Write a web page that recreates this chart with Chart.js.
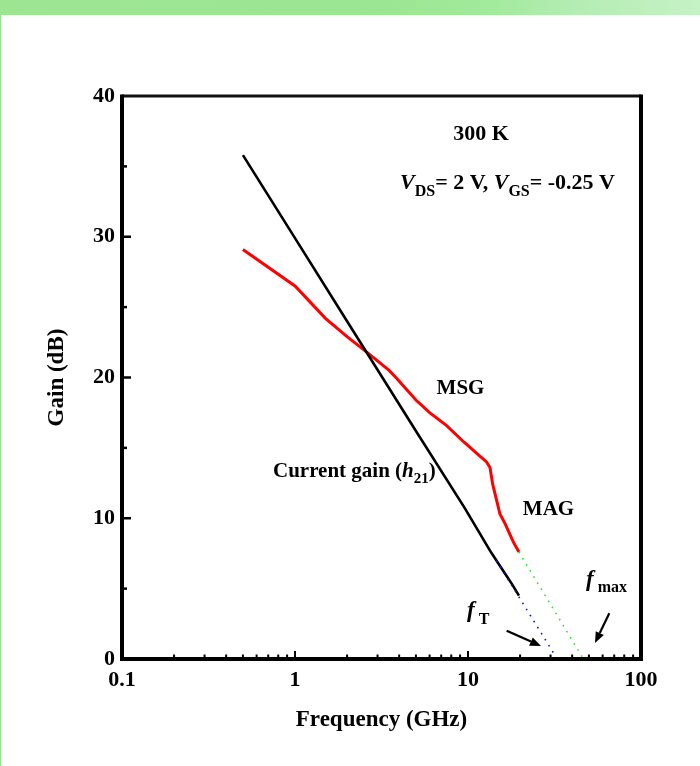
<!DOCTYPE html>
<html>
<head>
<meta charset="utf-8">
<script src="https://cdn.jsdelivr.net/npm/chart.js@4.4.1/dist/chart.umd.min.js"></script>
<style>
  html, body { margin: 0; padding: 0; background: #ffffff; }
  #wrap { position: relative; width: 700px; height: 766px; overflow: hidden; }
  #band { position: absolute; left: 0; top: 0; width: 700px; height: 15px;
          background: linear-gradient(90deg, #9ee592 0%, #9be692 55%, #a2ea9c 70%, #b4ecb3 82%, #c6f2c6 100%); }
  #edge { position: absolute; left: 0; top: 15px; width: 1px; height: 751px; background: #96e48e; }
  canvas { position: absolute; left: 0; top: 0; }
</style>
</head>
<body>
<div id="wrap">
  <div id="band"></div>
  <div id="edge"></div>
  <canvas id="c" width="700" height="766"></canvas>
</div>
<script>
// ---- data ----
const freqH21 = [0.5, 1, 2, 5, 9.6, 13.4, 14.6, 16.5, 18, 19.7];          // GHz
const gainH21 = [35.8, 29.9, 24.0, 16.2, 10.7, 7.7, 7.0, 6.0, 5.3, 4.5];   // dB

const freqMSG = [0.5, 1.0, 1.5, 2.0, 2.6, 3.5, 3.9, 5.0, 6.0, 7.5, 9.5, 11.5, 12.8, 13.4, 13.9, 15.3, 16.4, 18.3, 19.7];
const gainMSG = [29.1, 26.5, 24.2, 22.9, 21.8, 20.5, 19.9, 18.4, 17.5, 16.6, 15.4, 14.5, 14.0, 13.6, 12.4, 10.3, 9.6, 8.3, 7.6];

const freqFtExt = [14.6, 32.8];
const gainFtExt = [7.0, 0];
const freqFmaxExt = [19.7, 46.5];
const gainFmaxExt = [7.6, 0];

const xTickValues = [0.1, 1, 10, 100];
const xTickLabels = ['0.1', '1', '10', '100'];
const yTickValues = [0, 10, 20, 30, 40];
const yTickLabels = ['0', '10', '20', '30', '40'];

const SERIF = '"Liberation Serif", "Times New Roman", serif';

function pts(xs, ys) { return xs.map((v, i) => ({ x: v, y: ys[i] })); }

function line(ctx, x1, y1, x2, y2) { ctx.beginPath(); ctx.moveTo(x1, y1); ctx.lineTo(x2, y2); ctx.stroke(); }

function arrow(ctx, x1, y1, x2, y2) {
  const ang = Math.atan2(y2 - y1, x2 - x1);
  const hl = 11, hw = 4.5;
  const bx = x2 - hl * Math.cos(ang), by = y2 - hl * Math.sin(ang);
  ctx.lineWidth = 2.2;
  line(ctx, x1, y1, bx, by);
  ctx.beginPath();
  ctx.moveTo(x2, y2);
  ctx.lineTo(bx + hw * Math.sin(ang), by - hw * Math.cos(ang));
  ctx.lineTo(bx - hw * Math.sin(ang), by + hw * Math.cos(ang));
  ctx.closePath();
  ctx.fill();
}

function runs(ctx, x, base, parts, align) {
  let w = 0;
  parts.forEach(p => { ctx.font = p.font; w += ctx.measureText(p.t).width + (p.dx || 0); });
  let cx = align === 'center' ? x - w / 2 : x;
  ctx.textAlign = 'left';
  ctx.textBaseline = 'alphabetic';
  parts.forEach(p => {
    ctx.font = p.font;
    cx += (p.dx || 0);
    ctx.fillText(p.t, cx, base + (p.dy || 0));
    cx += ctx.measureText(p.t).width;
  });
}

const framePlugin = {
  id: 'framePlugin',
  afterDatasetsDraw(chart) {
    const { ctx, chartArea: { left, right, top, bottom }, scales: { x, y } } = chart;
    ctx.save();
    ctx.strokeStyle = '#000';
    ctx.fillStyle = '#000';
    ctx.lineCap = 'butt';
    // x ticks (inside, on bottom axis)
    ctx.lineWidth = 2;
    for (let d = -1; d <= 1; d++) {
      for (let m = 1; m <= 9; m++) {
        const v = m * Math.pow(10, d);
        if (v <= 0.1 + 1e-9) continue;
        const px = x.getPixelForValue(v);
        const len = m === 1 ? 8 : 4.5;
        line(ctx, px, bottom, px, bottom - len);
      }
    }
    // y ticks (inside, on left axis)
    for (let v = 5; v < 40; v += 5) {
      const py = y.getPixelForValue(v);
      const len = v % 10 === 0 ? 9 : 5;
      ctx.lineWidth = 2.5;
      line(ctx, left, py, left + len, py);
    }
    // frame
    ctx.lineWidth = 3;
    ctx.strokeStyle = '#111';
    line(ctx, left, top, right, top);
    ctx.strokeStyle = '#000';
    ctx.lineWidth = 4;
    ctx.lineJoin = 'miter';
    ctx.beginPath();
    ctx.moveTo(left, top - 1.5);
    ctx.lineTo(left, bottom);
    ctx.lineTo(right, bottom);
    ctx.lineTo(right, top - 1.5);
    ctx.stroke();
    ctx.restore();
  },
  afterDraw(chart) {
    const { ctx } = chart;
    ctx.save();
    ctx.fillStyle = '#000';
    ctx.strokeStyle = '#000';
    const B = (s) => 'bold ' + s + 'px ' + SERIF;
    const BI = (s) => 'italic bold ' + s + 'px ' + SERIF;

    ctx.textAlign = 'center';
    ctx.textBaseline = 'middle';
    ctx.font = B(22);
    ctx.fillText('300 K', 481, 134);

    runs(ctx, 400, 189, [
      { t: 'V', font: BI(22) },
      { t: 'DS', font: B(16), dy: 7 },
      { t: '= 2 V, ', font: B(22) },
      { t: 'V', font: BI(22) },
      { t: 'GS', font: B(16), dy: 7 },
      { t: '= -0.25 V', font: B(22) }
    ]);

    ctx.textAlign = 'center';
    ctx.textBaseline = 'middle';
    ctx.font = B(21);
    ctx.fillText('MSG', 460.5, 388.5);
    ctx.fillText('MAG', 548.5, 509.5);

    runs(ctx, 273, 477, [
      { t: 'Current gain (', font: B(21) },
      { t: 'h', font: BI(21) },
      { t: '21', font: B(15), dy: 6 },
      { t: ')', font: B(21) }
    ]);

    runs(ctx, 467, 617, [
      { t: 'f', font: BI(23) },
      { t: 'T', font: B(16), dy: 7, dx: 4 }
    ]);
    runs(ctx, 586, 586, [
      { t: 'f', font: BI(23) },
      { t: 'max', font: B(16), dy: 6, dx: 4 }
    ]);

    arrow(ctx, 506.7, 630.7, 541, 646);
    arrow(ctx, 609.3, 613.3, 595, 643);
    ctx.restore();
  }
};

new Chart(document.getElementById('c'), {
  type: 'scatter',
  data: {
    datasets: [
      { label: 'Current gain (h21)', data: pts(freqH21, gainH21), showLine: true,
        borderColor: '#000000', borderWidth: 2.6, pointRadius: 0, tension: 0, order: 2 },
      { label: 'MSG / MAG', data: pts(freqMSG, gainMSG), showLine: true,
        borderColor: '#ff0000', borderWidth: 3, pointRadius: 0, tension: 0, order: 3 },
      { label: 'fT extrapolation', data: pts(freqFtExt, gainFtExt), showLine: true,
        borderColor: '#1010ff', borderWidth: 1.6, borderDash: [1.6, 5.5], pointRadius: 0, order: 1 },
      { label: 'fmax extrapolation', data: pts(freqFmaxExt, gainFmaxExt), showLine: true,
        borderColor: '#22ee22', borderWidth: 1.6, borderDash: [1.6, 5.5], pointRadius: 0, order: 1 }
    ]
  },
  options: {
    responsive: false,
    animation: false,
    devicePixelRatio: 1,
    layout: { padding: { left: 0, top: 96, right: 59, bottom: 0 } },
    plugins: { legend: { display: false }, tooltip: { enabled: false } },
    scales: {
      x: {
        type: 'logarithmic',
        min: 0.1, max: 100,
        grid: { display: false, drawTicks: false },
        border: { display: false },
        ticks: {
          autoSkip: false, maxRotation: 0, padding: 8,
          color: '#000', font: { family: SERIF, size: 22, weight: 'bold' },
          callback: (v) => {
            const i = xTickValues.findIndex(t => Math.abs(t - v) < 1e-9 * Math.max(1, t));
            return i >= 0 ? xTickLabels[i] : '';
          }
        },
        title: { display: true, text: 'Frequency (GHz)', color: '#000',
                 font: { family: SERIF, size: 23, weight: 'bold' }, padding: { top: 0, bottom: 32 } },
        afterFit: (s) => { s.height = 107; }
      },
      y: {
        min: 0, max: 40,
        grid: { display: false, drawTicks: false },
        border: { display: false },
        ticks: {
          stepSize: 10, padding: 7, color: '#000',
          font: { family: SERIF, size: 22, weight: 'bold' },
          callback: (v) => {
            const i = yTickValues.indexOf(v);
            return i >= 0 ? yTickLabels[i] : '';
          }
        },
        title: { display: true, text: 'Gain (dB)', color: '#000',
                 font: { family: SERIF, size: 23, weight: 'bold' }, padding: { top: 43, bottom: 0 } },
        afterFit: (s) => { s.width = 122; }
      }
    }
  },
  plugins: [framePlugin]
});
</script>
</body>
</html>
